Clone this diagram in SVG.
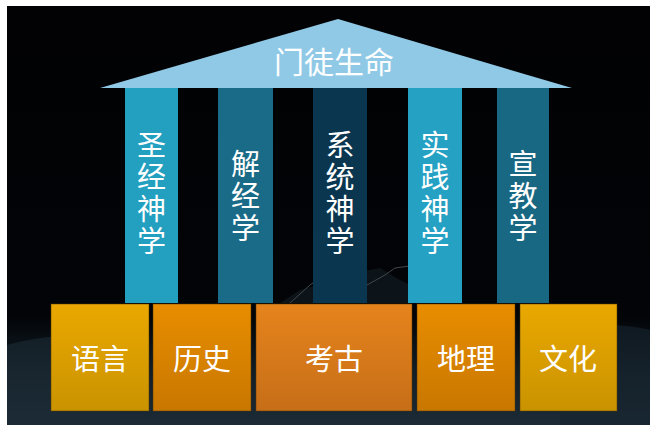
<svg xmlns="http://www.w3.org/2000/svg" width="650" height="425" viewBox="0 0 650 425">
<defs>
<linearGradient id="bg" x1="0" y1="0" x2="0" y2="1">
<stop offset="0" stop-color="#020204"/>
<stop offset="0.74" stop-color="#020407"/>
<stop offset="0.88" stop-color="#131f28"/>
<stop offset="1" stop-color="#1c2b36"/>
</linearGradient>
<linearGradient id="gy" x1="0" y1="0" x2="0" y2="1">
<stop offset="0" stop-color="#eaa800"/>
<stop offset="1" stop-color="#c99300"/>
</linearGradient>
<linearGradient id="go" x1="0" y1="0" x2="0" y2="1">
<stop offset="0" stop-color="#e88d00"/>
<stop offset="1" stop-color="#c87700"/>
</linearGradient>
<linearGradient id="gr" x1="0" y1="0" x2="0" y2="1">
<stop offset="0" stop-color="#e6841c"/>
<stop offset="1" stop-color="#c66e18"/>
</linearGradient>
</defs>
<style>
.t{font-family:"Noto Sans CJK SC","Noto Sans",sans-serif;fill:#ffffff;text-anchor:middle}
.pt{font-size:29px}
.bt{font-size:29px}
.box{stroke:#5a3a00;stroke-opacity:0.5;stroke-width:1}
</style>
<rect x="0" y="0" width="650" height="425" fill="#ffffff"/>
<rect x="7" y="6" width="643" height="419" fill="url(#bg)"/>
<g id="background" opacity="0.6">
<path d="M280 303 L300 290 L330 282 L360 272 L380 268 L400 280 L420 290 L440 303 Z" fill="#141e25"/>
<path d="M290 303 L310 285 L320 278 M367 285 L385 275 L395 268 L410 266" fill="none" stroke="#6a7378" stroke-width="1"/>
<path d="M7 345 Q60 330 120 338 L120 425 L7 425 Z" fill="#1c2b36"/>
<path d="M560 330 Q610 320 650 330 L650 425 L560 425 Z" fill="#18252f"/>
</g>
<g id="roof">
<polygon points="100,88 338,19 572,88" fill="#8fc9e6"/>
<text class="t" x="334" y="73" style="font-size:30px">门徒生命</text>
</g>
<g id="pillar1">
<rect x="125" y="88" width="53" height="215" fill="#239fc0"/>
<text class="t pt" x="151.5" y="156">圣</text>
<text class="t pt" x="151.5" y="188">经</text>
<text class="t pt" x="151.5" y="220">神</text>
<text class="t pt" x="151.5" y="252">学</text>
</g>
<g id="pillar2">
<rect x="218" y="88" width="55" height="215" fill="#1a6b87"/>
<text class="t pt" x="245.5" y="175">解</text>
<text class="t pt" x="245.5" y="207">经</text>
<text class="t pt" x="245.5" y="239">学</text>
</g>
<g id="pillar3">
<rect x="313" y="88" width="54" height="215" fill="#0b3650"/>
<text class="t pt" x="340" y="156">系</text>
<text class="t pt" x="340" y="188">统</text>
<text class="t pt" x="340" y="220">神</text>
<text class="t pt" x="340" y="252">学</text>
</g>
<g id="pillar4">
<rect x="408" y="88" width="54" height="215" fill="#24a1c3"/>
<text class="t pt" x="435" y="156">实</text>
<text class="t pt" x="435" y="188">践</text>
<text class="t pt" x="435" y="220">神</text>
<text class="t pt" x="435" y="252">学</text>
</g>
<g id="pillar5">
<rect x="497" y="88" width="52" height="215" fill="#196883"/>
<text class="t pt" x="523" y="175">宣</text>
<text class="t pt" x="523" y="207">教</text>
<text class="t pt" x="523" y="239">学</text>
</g>
<g id="box-yuyan">
<rect class="box" x="51" y="304" width="98" height="107" fill="url(#gy)"/>
<text class="t bt" x="100" y="370">语言</text>
</g>
<g id="box-lishi">
<rect class="box" x="153" y="304" width="98" height="107" fill="url(#go)"/>
<text class="t bt" x="202" y="370">历史</text>
</g>
<g id="box-kaogu">
<rect class="box" x="256" y="304" width="156" height="107" fill="url(#gr)"/>
<text class="t bt" x="334" y="370">考古</text>
</g>
<g id="box-dili">
<rect class="box" x="417" y="304" width="98" height="107" fill="url(#go)"/>
<text class="t bt" x="466" y="370">地理</text>
</g>
<g id="box-wenhua">
<rect class="box" x="520" y="304" width="97" height="107" fill="url(#gy)"/>
<text class="t bt" x="568" y="370">文化</text>
</g>
<g id="connectors"/>
</svg>
